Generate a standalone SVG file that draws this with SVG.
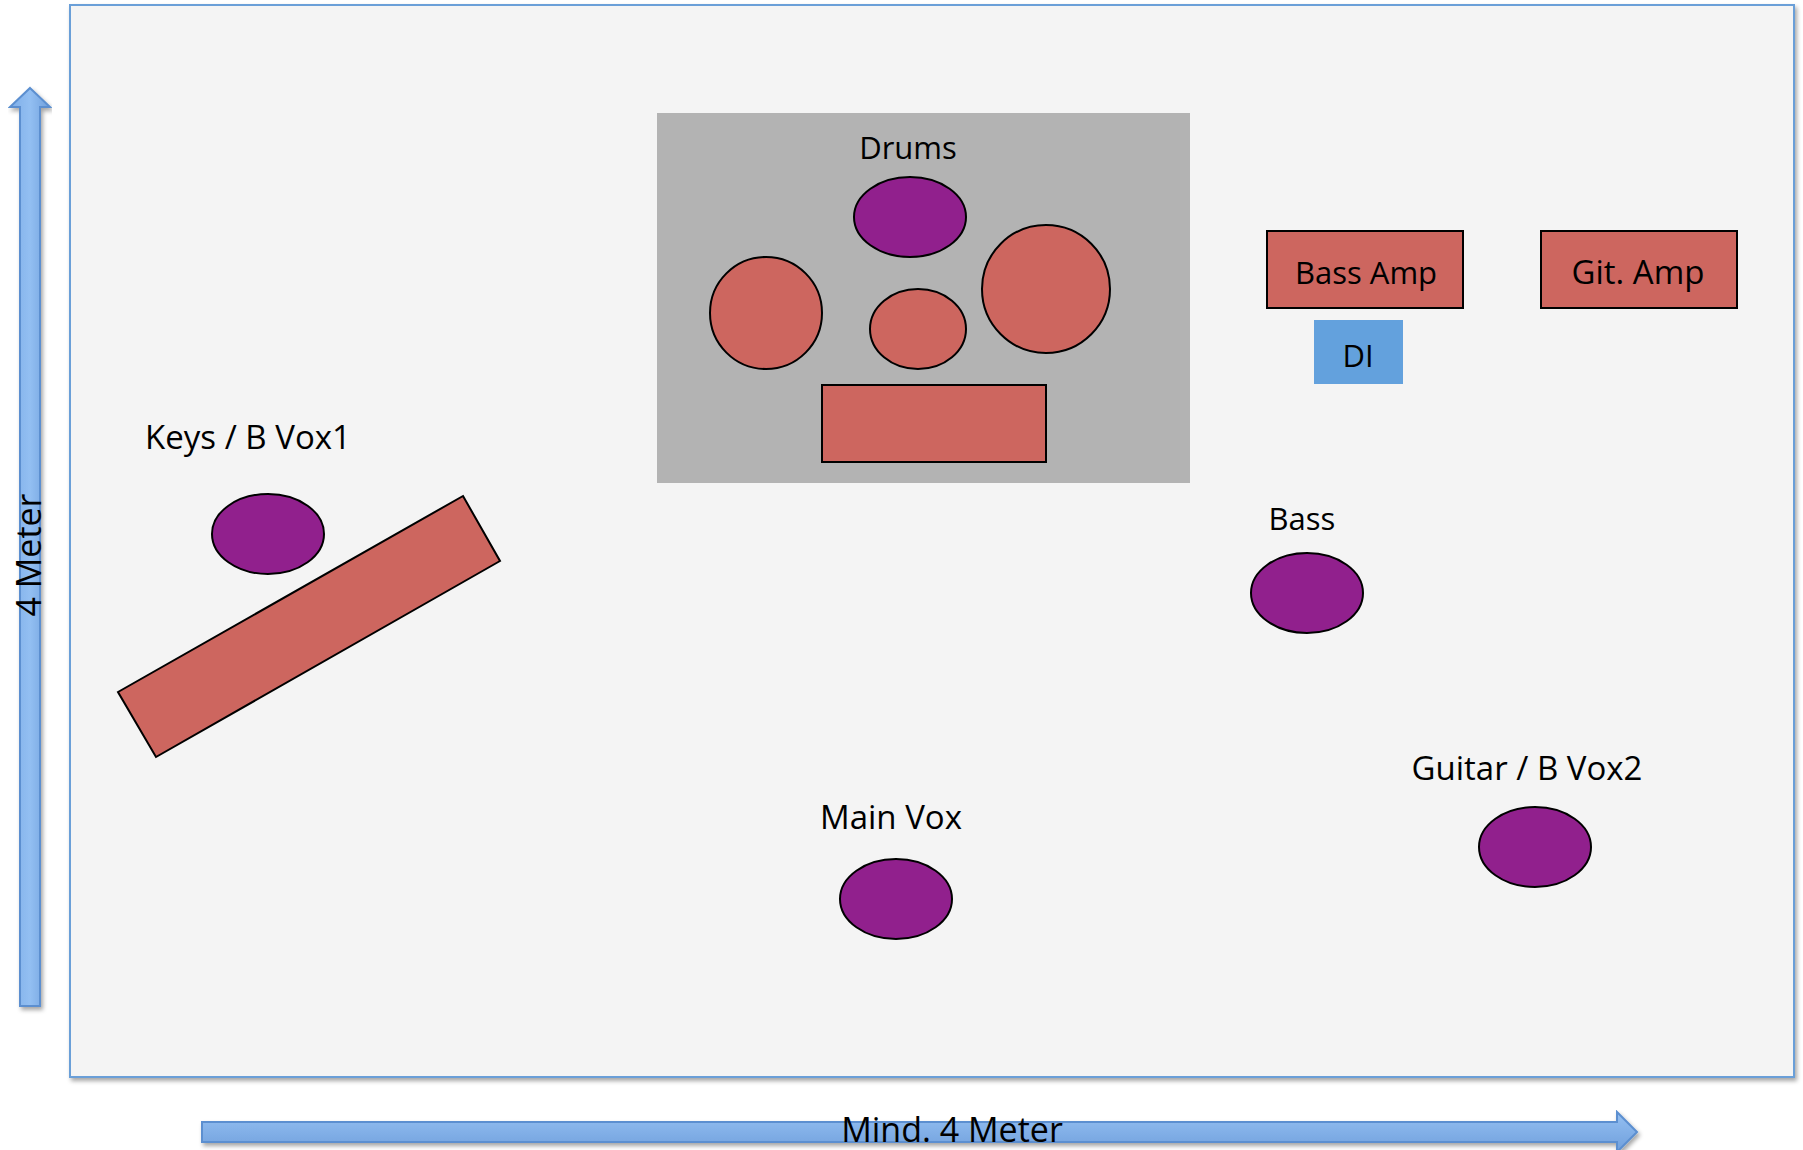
<svg xmlns="http://www.w3.org/2000/svg" width="1803" height="1150" viewBox="0 0 1803 1150">
<defs>
<filter id="sh" x="-5%" y="-5%" width="110%" height="110%">
<feDropShadow dx="2" dy="3" stdDeviation="2" flood-color="#000" flood-opacity="0.35"/>
</filter>
<linearGradient id="gv" x1="0" y1="0" x2="1" y2="0">
<stop offset="0" stop-color="#7eaee8"/><stop offset="0.5" stop-color="#93bff2"/><stop offset="1" stop-color="#6f9fdc"/>
</linearGradient>
<linearGradient id="gh" x1="0" y1="0" x2="0" y2="1">
<stop offset="0" stop-color="#95c0f2"/><stop offset="1" stop-color="#6f9fdc"/>
</linearGradient>
</defs>
<style>
text{font-family:"Open Sans","Noto Sans",sans-serif;font-size:31px;fill:#000;text-anchor:middle}
.w{font-size:33px}
.coral{fill:#cd665f;stroke:#000;stroke-width:2}
.purp{fill:#91208d;stroke:#000;stroke-width:2}
.arrow{stroke:#5b8fd0;stroke-width:2}
</style>
<rect width="1803" height="1150" fill="#fff"/>
<g id="stage">
<rect x="70" y="5" width="1724" height="1072" fill="#f4f4f4" stroke="#6a9fd8" stroke-width="2" filter="url(#sh)"/>
</g>
<g id="axes">
<polygon class="arrow" fill="url(#gv)" points="30,88 50,107 40,107 40,1006 20,1006 20,107 10,107" filter="url(#sh)"/>
<text class="w" style="font-size:34px" transform="translate(41,555) rotate(-90)">4 Meter</text>
<polygon class="arrow" fill="url(#gh)" points="202,1122 1617,1122 1617,1112 1637,1132 1617,1152 1617,1142 202,1142" filter="url(#sh)"/>
<text class="w" style="font-size:34px" x="952" y="1142">Mind. 4 Meter</text>
</g>
<g id="drums">
<rect x="657" y="113" width="533" height="370" fill="#b3b3b3"/>
<text x="908" y="159">Drums</text>
<ellipse class="purp" cx="910" cy="217" rx="56" ry="40"/>
<ellipse class="coral" cx="766" cy="313" rx="56" ry="56"/>
<ellipse class="coral" cx="918" cy="329" rx="48" ry="40"/>
<ellipse class="coral" cx="1046" cy="289" rx="64" ry="64"/>
<rect class="coral" x="822" y="385" width="224" height="77"/>
</g>
<g id="bass-amp">
<rect class="coral" x="1267" y="231" width="196" height="77"/>
<text x="1366" y="284">Bass Amp</text>
</g>
<g id="git-amp">
<rect class="coral" x="1541" y="231" width="196" height="77"/>
<text class="w" x="1638" y="284">Git. Amp</text>
</g>
<g id="di">
<rect x="1314" y="320" width="89" height="64" fill="#63a1dd"/>
<text x="1358" y="367">DI</text>
</g>
<g id="keys">
<text class="w" x="248" y="449">Keys / B Vox1</text>
<ellipse class="purp" cx="268" cy="534" rx="56" ry="40"/>
<polygon class="coral" points="463,496 500,561 156,757 118,692"/>
</g>
<g id="bass">
<text x="1302" y="530">Bass</text>
<ellipse class="purp" cx="1307" cy="593" rx="56" ry="40"/>
</g>
<g id="main-vox">
<text class="w" x="891" y="829">Main Vox</text>
<ellipse class="purp" cx="896" cy="899" rx="56" ry="40"/>
</g>
<g id="guitar">
<text class="w" x="1527" y="780">Guitar / B Vox2</text>
<ellipse class="purp" cx="1535" cy="847" rx="56" ry="40"/>
</g>
</svg>
